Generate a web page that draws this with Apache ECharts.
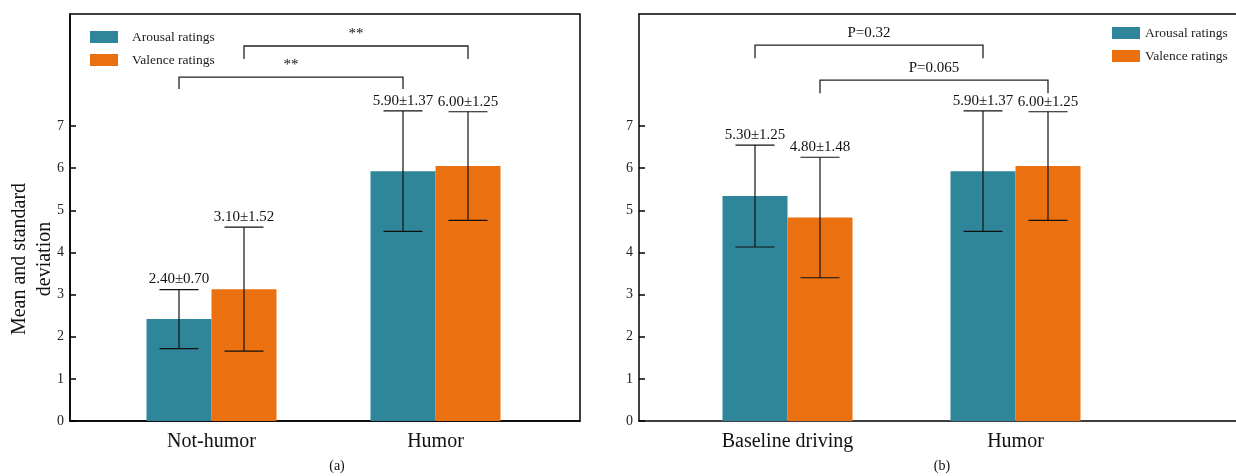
<!DOCTYPE html>
<html>
<head>
<meta charset="utf-8">
<title>Ratings</title>
<script src="https://cdn.jsdelivr.net/npm/echarts/dist/echarts.min.js"></script>
<style>
    html, body {margin: 0; padding: 0; background: #fff;}
    #main {width: 1236px; height: 476px;}
</style>
</head>
<body>
<div id="main"></div>
<script>
// (a) 数据
var leftCats = ['Not-humor', 'Humor'];
var leftArousalMean = [2.42, 5.93];
var leftArousalSd = [0.70, 1.43];
var leftValenceMean = [3.13, 6.05];
var leftValenceSd = [1.47, 1.29];
var leftArousalLabels = ['2.40±0.70', '5.90±1.37'];
var leftValenceLabels = ['3.10±1.52', '6.00±1.25'];
// 显著性: [起点类别, 起点系列, 终点类别, 终点系列, 横线y, 端点y]
var leftBrackets = [[0, 0, 1, 0, 8.16, 7.88], [0, 1, 1, 1, 8.90, 8.59]];
var leftBracketText = ['**', '**'];

// (b) 数据
var rightCats = ['Baseline driving', 'Humor'];
var rightArousalMean = [5.34, 5.93];
var rightArousalSd = [1.21, 1.43];
var rightValenceMean = [4.83, 6.05];
var rightValenceSd = [1.43, 1.29];
var rightArousalLabels = ['5.30±1.25', '5.90±1.37'];
var rightValenceLabels = ['4.80±1.48', '6.00±1.25'];
var rightBrackets = [[0, 0, 1, 0, 8.92, 8.61], [0, 1, 1, 1, 8.09, 7.78]];
var rightBracketText = ['P=0.32', 'P=0.065'];

var yTicks = [0, 1, 2, 3, 4, 5, 6, 7];
var seriesNames = ['Arousal ratings', 'Valence ratings'];

var FONT = '"Liberation Serif", "Times New Roman", serif';
var TEAL = '#2f869a';
var ORANGE = '#ea7010';
var YMAX = 9.66;
var HALF_BAR = 32.5;

function errData(aMean, aSd, vMean, vSd) {
    var rows = [];
    for (var i = 0; i < aMean.length; i++) {
        rows.push([i, 0, aMean[i], aSd[i]]);
        rows.push([i, 1, vMean[i], vSd[i]]);
    }
    return rows;
}

function errLabels(aLab, vLab) {
    var out = [];
    for (var i = 0; i < aLab.length; i++) {
        out.push(aLab[i]);
        out.push(vLab[i]);
    }
    return out;
}

function errorSeries(gridIdx, rows, labels) {
    return {
        type: 'custom',
        xAxisIndex: gridIdx, yAxisIndex: gridIdx,
        z: 5, silent: true,
        data: rows,
        renderItem: function (params, api) {
            var cat = api.value(0), s = api.value(1), m = api.value(2), sd = api.value(3);
            var top = api.coord([cat, m + sd]);
            var bot = api.coord([cat, m - sd]);
            var x = top[0] + (s === 0 ? -HALF_BAR : HALF_BAR);
            var ls = {stroke: '#111', lineWidth: 1.2};
            return {
                type: 'group',
                children: [
                    {type: 'line', shape: {x1: x, y1: top[1], x2: x, y2: bot[1]}, style: ls},
                    {type: 'line', shape: {x1: x - 19.5, y1: top[1], x2: x + 19.5, y2: top[1]}, style: ls},
                    {type: 'line', shape: {x1: x - 19.5, y1: bot[1], x2: x + 19.5, y2: bot[1]}, style: ls},
                    {type: 'text', x: x, y: top[1] - 10, style: {
                        text: labels[params.dataIndex], fontSize: 15, fontFamily: FONT, fill: '#111',
                        textAlign: 'center', textVerticalAlign: 'middle'}}
                ]
            };
        }
    };
}

function bracketSeries(gridIdx, rows, texts) {
    return {
        type: 'custom',
        xAxisIndex: gridIdx, yAxisIndex: gridIdx,
        z: 5, silent: true,
        data: rows,
        renderItem: function (params, api) {
            var p1 = api.coord([api.value(0), api.value(4)]);
            var p2 = api.coord([api.value(2), api.value(4)]);
            var e = api.coord([api.value(0), api.value(5)]);
            var x1 = p1[0] + (api.value(1) === 0 ? -HALF_BAR : HALF_BAR);
            var x2 = p2[0] + (api.value(3) === 0 ? -HALF_BAR : HALF_BAR);
            var ls = {stroke: '#222', lineWidth: 1.3, fill: null};
            return {
                type: 'group',
                children: [
                    {type: 'polyline', shape: {points: [[x1, e[1]], [x1, p1[1]], [x2, p1[1]], [x2, e[1]]]}, style: ls},
                    {type: 'text', x: (x1 + x2) / 2, y: p1[1] - 12, style: {
                        text: texts[params.dataIndex], fontSize: 15, fontFamily: FONT, fill: '#111',
                        textAlign: 'center', textVerticalAlign: 'middle'}}
                ]
            };
        }
    };
}

function boxX(gridIdx, pos) {
    return {
        type: 'value', gridIndex: gridIdx, min: 0, max: 1, position: pos || 'bottom',
        axisLine: {show: true, onZero: false, lineStyle: {color: '#000', width: 1.5}},
        axisTick: {show: false}, axisLabel: {show: false}, splitLine: {show: false}
    };
}

function boxY(gridIdx) {
    return {
        type: 'value', gridIndex: gridIdx, min: 0, max: YMAX, interval: 1,
        axisLine: {show: true, lineStyle: {color: '#000', width: 1.5}},
        axisTick: {show: true, inside: true, length: 6, customValues: yTicks, lineStyle: {color: '#000', width: 1.5}},
        axisLabel: {show: true, customValues: yTicks, margin: 6, fontSize: 14, fontFamily: FONT, color: '#222'},
        splitLine: {show: false}
    };
}

function catX(gridIdx, cats) {
    return {
        type: 'category', gridIndex: gridIdx, data: cats,
        axisLine: {show: false}, axisTick: {show: false},
        axisLabel: {margin: 11, fontSize: 20, fontFamily: FONT, color: '#111'}
    };
}

function hiddenY(gridIdx) {
    return {type: 'value', gridIndex: gridIdx, min: 0, max: YMAX, show: false};
}

function bar(gridIdx, name, color, values) {
    return {
        type: 'bar', name: name, xAxisIndex: gridIdx, yAxisIndex: gridIdx,
        barWidth: 65, barGap: 0, data: values,
        itemStyle: {color: color}
    };
}

var legendBase = {
    orient: 'vertical', icon: 'rect', itemWidth: 28, itemHeight: 12, itemGap: 8, padding: 0,
    data: seriesNames, selectedMode: false
};

//初始化图表
var myChart = echarts.init(document.getElementById('main'));
var option = {
    animation: false,
    color: [TEAL, ORANGE],
    grid: [
        {left: 70, top: 14, width: 510, height: 407, show: true, borderColor: '#000', borderWidth: 1.5, outerBoundsMode: 'none'},
        {left: 99.5, top: 14, width: 448, height: 407, outerBoundsMode: 'none'},
        {left: 639, top: 14, width: 640, height: 407, outerBoundsMode: 'none'},
        {left: 673.5, top: 14, width: 456, height: 407, outerBoundsMode: 'none'}
    ],
    // 右图只画上边框, 右侧超出画面
    xAxis: [boxX(0), catX(1, leftCats), boxX(2), catX(3, rightCats), boxX(2, 'top')],
    yAxis: [boxY(0), hiddenY(1), boxY(2), hiddenY(3)],
    legend: [
        echarts.util.merge({left: 90, top: 29.5, textStyle: {fontSize: 13.5, fontFamily: FONT, color: '#222', lineHeight: 15, padding: [0, 0, 0, 9]}}, legendBase),
        echarts.util.merge({left: 1112, top: 25.5, textStyle: {fontSize: 13.5, fontFamily: FONT, color: '#222', lineHeight: 15}}, legendBase)
    ],
    graphic: [
        {type: 'text', x: 32, y: 259, rotation: Math.PI / 2, style: {
            text: 'Mean and standard\ndeviation', fontSize: 20, lineHeight: 25, fontFamily: FONT, fill: '#111',
            textAlign: 'center', textVerticalAlign: 'middle'}},
        {type: 'text', x: 337, y: 466, style: {
            text: '(a)', fontSize: 14, fontFamily: FONT, fill: '#111', textAlign: 'center', textVerticalAlign: 'middle'}},
        {type: 'text', x: 942, y: 466, style: {
            text: '(b)', fontSize: 14, fontFamily: FONT, fill: '#111', textAlign: 'center', textVerticalAlign: 'middle'}}
    ],
    series: [
        bar(1, seriesNames[0], TEAL, leftArousalMean),
        bar(1, seriesNames[1], ORANGE, leftValenceMean),
        bar(3, seriesNames[0], TEAL, rightArousalMean),
        bar(3, seriesNames[1], ORANGE, rightValenceMean),
        errorSeries(1, errData(leftArousalMean, leftArousalSd, leftValenceMean, leftValenceSd), errLabels(leftArousalLabels, leftValenceLabels)),
        errorSeries(3, errData(rightArousalMean, rightArousalSd, rightValenceMean, rightValenceSd), errLabels(rightArousalLabels, rightValenceLabels)),
        bracketSeries(1, leftBrackets, leftBracketText),
        bracketSeries(3, rightBrackets, rightBracketText)
    ]
};
myChart.setOption(option);
</script>
</body>
</html>
